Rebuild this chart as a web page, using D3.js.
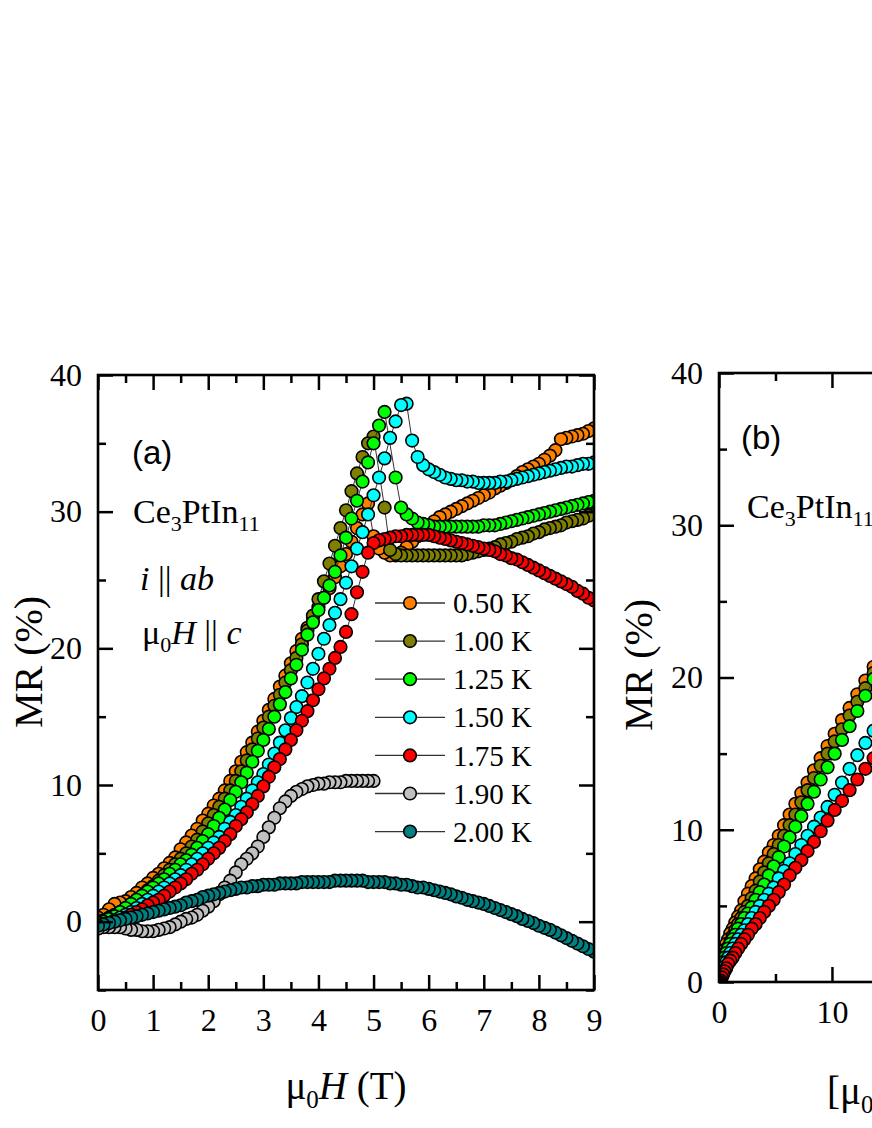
<!DOCTYPE html>
<html>
<head>
<meta charset="utf-8">
<script src="https://cdn.jsdelivr.net/npm/d3@7"></script>
<style>
  body { margin: 0; background: #fff; }
  svg text { font-family: "Liberation Serif", "Times New Roman", serif; fill: #000; }
  .tick text { font-size: 32px; }
  .tick line { stroke: #000; stroke-width: 2.5px; }
  .sans { font-family: "Liberation Sans", Arial, sans-serif !important; }
</style>
</head>
<body>
<div id="chart"></div>
<script>
// Campo magnetico (T), comun a todas las series del panel (a)
const field = [
  0, 0.1, 0.2, 0.3, 0.4, 0.5, 0.6, 0.7, 0.8, 0.9,
  1, 1.1, 1.2, 1.3, 1.4, 1.5, 1.6, 1.7, 1.8, 1.9,
  2, 2.1, 2.2, 2.3, 2.4, 2.5, 2.6, 2.7, 2.8, 2.9,
  3, 3.1, 3.2, 3.3, 3.4, 3.5, 3.6, 3.7, 3.8, 3.9,
  4, 4.1, 4.2, 4.3, 4.4, 4.5, 4.6, 4.7, 4.8, 4.9,
  5, 5.1, 5.2, 5.3, 5.4, 5.5, 5.6, 5.7, 5.8, 5.9,
  6, 6.1, 6.2, 6.3, 6.4, 6.5, 6.6, 6.7, 6.8, 6.9,
  7, 7.1, 7.2, 7.3, 7.4, 7.5, 7.6, 7.7, 7.8, 7.9,
  8, 8.1, 8.2, 8.3, 8.4, 8.5, 8.6, 8.7, 8.8, 8.9,
  9
];

// MR (%) para cada temperatura (null = sin punto)
const mr050 = [
  0.3, 0.5, 0.9, 1.3, 1.4, 1.5, 1.8, 2.1, 2.5, 2.8,
  3.2, 3.5, 3.9, 4.3, 4.7, 5.3, 5.8, 6.3, 6.8, 7.4,
  7.9, 8.5, 9.0, 9.6, 10.3, 11.0, 11.7, 12.4, 13.1, 13.9,
  14.7, 15.5, 16.3, 17.2, 18.0, 18.9, 19.8, 20.7, 21.5, 22.3,
  23.0, 23.7, 24.4, 25.2, 26.0, 26.9, 27.8, 28.8, 29.8, 30.6,
  28.2, 27.3, 27.0, 26.8, 26.8, 27.0, 27.4, 27.8, 28.2, 28.6,
  29.0, 29.3, 29.6, 29.8, 30.0, 30.2, 30.4, 30.6, 30.8, 31.0,
  31.2, 31.4, 31.7, 31.9, 32.1, 32.3, 32.6, 32.9, 33.1, 33.3,
  33.5, 33.8, 34.1, 34.5, 35.3, 35.4, 35.5, 35.6, 35.7, 35.9,
  36.1
];
const mr100 = [
  0.0, 0.1, 0.3, 0.5, 0.7, 1.0, 1.3, 1.6, 1.9, 2.3,
  2.6, 3.0, 3.4, 3.8, 4.2, 4.6, 5.0, 5.5, 6.0, 6.6,
  7.2, 7.8, 8.4, 9.0, 9.6, 10.3, 11.0, 11.8, 12.6, 13.4,
  14.2, 15.0, 15.8, 16.6, 17.5, 18.4, 19.3, 20.3, 21.3, 22.4,
  23.6, 24.9, 26.2, 27.5, 28.8, 30.1, 31.5, 32.8, 34.0, 35.0,
  35.5, null, 30.3, 27.2, 26.9, 26.8, 26.8, 26.8, 26.8, 26.8,
  26.8, 26.8, 26.8, 26.8, 26.8, 26.8, 26.8, 26.9, 27.0, 27.1,
  27.2, 27.3, 27.4, 27.6, 27.7, 27.8, 28.0, 28.1, 28.2, 28.4,
  28.5, 28.7, 28.8, 28.9, 29.0, 29.2, 29.3, 29.4, 29.5, 29.7,
  29.8
];
const mr125 = [
  -0.1, 0.0, 0.2, 0.4, 0.7, 1.0, 1.3, 1.6, 1.9, 2.2,
  2.5, 2.8, 3.1, 3.5, 3.8, 4.2, 4.5, 4.9, 5.4, 5.9,
  6.4, 7.0, 7.6, 8.2, 8.9, 9.5, 10.2, 10.9, 11.7, 12.5,
  13.3, 14.1, 15.0, 15.9, 16.8, 17.8, 18.8, 19.9, 21.0, 21.9,
  22.8, 23.7, 24.6, 25.6, 26.8, 28.1, 29.5, 30.8, 32.2, 33.6,
  35.0, 36.3, 37.3, null, 32.5, 30.3, 29.8, 29.5, 29.2, 29.1,
  29.0, 28.9, 28.9, 28.9, 28.9, 28.9, 28.9, 28.9, 28.9, 28.9,
  29.0, 29.0, 29.0, 29.1, 29.2, 29.3, 29.4, 29.5, 29.6, 29.7,
  29.8, 29.9, 30.0, 30.1, 30.2, 30.3, 30.4, 30.5, 30.6, 30.7,
  30.8
];
const mr150 = [
  -0.5, -0.3, -0.1, 0.1, 0.3, 0.5, 0.7, 1.0, 1.3, 1.6,
  1.9, 2.2, 2.5, 2.8, 3.1, 3.4, 3.8, 4.2, 4.6, 5.0,
  5.4, 5.8, 6.2, 6.8, 7.3, 7.8, 8.4, 9.0, 9.6, 10.2,
  10.8, 11.5, 12.3, 13.1, 14.0, 14.9, 15.7, 16.5, 17.5, 18.5,
  19.6, 20.7, 21.7, 22.6, 23.6, 24.8, 26.0, 27.3, 28.5, 29.8,
  31.2, 32.5, 33.9, 35.4, 36.6, 37.8, 37.9, 35.2, 34.0, 33.4,
  33.1, 32.9, 32.7, 32.5, 32.4, 32.3, 32.3, 32.2, 32.2, 32.1,
  32.1, 32.1, 32.1, 32.2, 32.2, 32.3, 32.4, 32.5, 32.6, 32.7,
  32.8, 32.9, 33.0, 33.1, 33.2, 33.3, 33.3, 33.4, 33.5, 33.5,
  33.6
];
const mr175 = [
  -0.3, -0.2, -0.1, 0.0, 0.1, 0.3, 0.5, 0.7, 0.9, 1.2,
  1.4, 1.6, 1.9, 2.2, 2.5, 2.8, 3.1, 3.5, 3.8, 4.2,
  4.6, 5.0, 5.4, 5.9, 6.4, 7.0, 7.5, 8.0, 8.6, 9.2,
  9.9, 10.6, 11.3, 11.9, 12.6, 13.3, 14.0, 14.7, 15.4, 16.2,
  17.0, 17.8, 18.5, 19.3, 20.1, 21.2, 22.5, 24.1, 25.6, 27.0,
  27.7, 27.9, 28.0, 28.1, 28.2, 28.2, 28.3, 28.3, 28.3, 28.3,
  28.3, 28.2, 28.1, 28.0, 27.9, 27.8, 27.7, 27.6, 27.5, 27.4,
  27.3, 27.2, 27.1, 26.9, 26.8, 26.6, 26.5, 26.3, 26.1, 25.9,
  25.7, 25.5, 25.3, 25.1, 24.9, 24.7, 24.5, 24.2, 24.0, 23.7,
  23.5
];
const mr190 = [
  -0.5, -0.4, -0.4, -0.4, -0.4, -0.5, -0.6, -0.6, -0.7, -0.7,
  -0.7, -0.6, -0.5, -0.4, -0.2, 0.0, 0.2, 0.3, 0.5, 0.8,
  1.1, 1.5, 2.0, 2.5, 3.0, 3.6, 4.2, 4.6, 5.0, 5.5,
  6.2, 6.9, 7.6, 8.3, 8.8, 9.2, 9.5, 9.7, 9.9, 10.0,
  10.1, 10.1, 10.2, 10.2, 10.2, 10.3, 10.3, 10.3, 10.3, 10.3,
  10.3
];
const mr200 = [
  -0.3, -0.2, -0.1, 0.0, 0.1, 0.2, 0.3, 0.4, 0.5, 0.6,
  0.7, 0.8, 0.9, 1.0, 1.1, 1.2, 1.4, 1.5, 1.6, 1.8,
  1.9, 2.0, 2.1, 2.2, 2.3, 2.4, 2.5, 2.5, 2.6, 2.6,
  2.7, 2.7, 2.7, 2.8, 2.8, 2.8, 2.8, 2.9, 2.9, 2.9,
  2.9, 2.9, 2.9, 3.0, 3.0, 3.0, 3.0, 3.0, 3.0, 2.9,
  2.9, 2.9, 2.9, 2.8, 2.8, 2.7, 2.7, 2.6, 2.5, 2.5,
  2.4, 2.3, 2.2, 2.1, 2.0, 1.85, 1.75, 1.6, 1.5, 1.4,
  1.3, 1.15, 1.0, 0.85, 0.7, 0.55, 0.4, 0.2, 0.05, -0.1,
  -0.3, -0.45, -0.6, -0.8, -1.0, -1.2, -1.4, -1.6, -1.8, -2.0,
  -2.2
];

const labels = ["0.50 K", "1.00 K", "1.25 K", "1.50 K", "1.75 K", "1.90 K", "2.00 K"];
const colors = ["#ff8000", "#808000", "#00ff00", "#00ffff", "#ff0000", "#c0c0c0", "#008080"];
const seriesValues = [mr050, mr100, mr125, mr150, mr175, mr190, mr200];
// Series que aparecen en el panel (b)
const seriesInB = [0, 1, 2, 3, 4];

// Ticks
const xTicksA = [0, 1, 2, 3, 4, 5, 6, 7, 8, 9];
const xMinorA = [0.5, 1.5, 2.5, 3.5, 4.5, 5.5, 6.5, 7.5, 8.5];
const yTicksA = [0, 10, 20, 30, 40];
const yMinorA = [-5, 5, 15, 25, 35];
const xTicksB = [0, 10, 20, 30, 40];
const xMinorB = [5, 15, 25, 35];
const yTicksB = [0, 10, 20, 30, 40];
const yMinorB = [5, 15, 25, 35];

const width = 872, height = 1128;

const svg = d3.select("#chart")
  .append("svg")
  .attr("width", width)
  .attr("height", height);

const boxA = { left: 98, right: 594, top: 375, bottom: 990 };
const boxB = { left: 719, right: 1216, top: 373, bottom: 982 };

const xA = d3.scaleLinear().domain([0, 9]).range([boxA.left, boxA.right]);
const yA = d3.scaleLinear().domain([-5, 40]).range([boxA.bottom, boxA.top]);
const xB = d3.scaleLinear().domain([0, 44]).range([boxB.left, boxB.right]);
const yB = d3.scaleLinear().domain([0, 40]).range([boxB.bottom, boxB.top]);

// Puntos de cada serie
const series = seriesValues.map((vals, k) => ({
  label: labels[k],
  color: colors[k],
  points: vals.map((v, i) => ({ h: field[i], mr: v })).filter(d => d.mr != null)
}));

const defs = svg.append("defs");
[["clipA", boxA], ["clipB", boxB]].forEach(([id, b]) => {
  defs.append("clipPath").attr("id", id)
    .append("rect")
    .attr("x", b.left).attr("y", b.top)
    .attr("width", b.right - b.left).attr("height", b.bottom - b.top);
});

function drawSeries(clipId, list, xs, ys, xVal) {
  const g = svg.append("g").attr("clip-path", `url(#${clipId})`);
  const line = d3.line().x(d => xs(xVal(d))).y(d => ys(d.mr));
  list.forEach(s => {
    g.append("path")
      .datum(s.points)
      .attr("d", line)
      .attr("fill", "none")
      .attr("stroke", "#333")
      .attr("stroke-width", 1);
    g.append("g")
      .selectAll("circle")
      .data(s.points.slice().reverse())
      .join("circle")
      .attr("cx", d => xs(xVal(d)))
      .attr("cy", d => ys(d.mr))
      .attr("r", 6.3)
      .attr("fill", s.color)
      .attr("stroke", "#000")
      .attr("stroke-width", 1.6);
  });
}

drawSeries("clipA", series, xA, yA, d => d.h);
drawSeries("clipB", seriesInB.map(k => series[k]), xB, yB, d => d.h * d.h);

// Ejes con ticks hacia dentro en los cuatro lados
function drawAxes(b, xs, ys, xMaj, xMin, yMaj, yMin) {
  const clean = g => g.select(".domain").remove();
  svg.append("g").attr("transform", `translate(0,${b.bottom})`)
    .call(d3.axisBottom(xs).tickValues(xMaj).tickSize(-15).tickPadding(18).tickFormat(d3.format("d")))
    .call(clean);
  svg.append("g").attr("transform", `translate(0,${b.bottom})`)
    .call(d3.axisBottom(xs).tickValues(xMin).tickSize(-8).tickFormat(""))
    .call(clean);
  svg.append("g").attr("transform", `translate(0,${b.top})`)
    .call(d3.axisTop(xs).tickValues(xMaj).tickSize(-15).tickFormat(""))
    .call(clean);
  svg.append("g").attr("transform", `translate(0,${b.top})`)
    .call(d3.axisTop(xs).tickValues(xMin).tickSize(-8).tickFormat(""))
    .call(clean);
  svg.append("g").attr("transform", `translate(${b.left},0)`)
    .call(d3.axisLeft(ys).tickValues(yMaj).tickSize(-15).tickPadding(16).tickFormat(d3.format("d")))
    .call(clean);
  svg.append("g").attr("transform", `translate(${b.left},0)`)
    .call(d3.axisLeft(ys).tickValues(yMin).tickSize(-8).tickFormat(""))
    .call(clean);
  svg.append("g").attr("transform", `translate(${b.right},0)`)
    .call(d3.axisRight(ys).tickValues(yMaj).tickSize(-15).tickFormat(""))
    .call(clean);
  svg.append("g").attr("transform", `translate(${b.right},0)`)
    .call(d3.axisRight(ys).tickValues(yMin).tickSize(-8).tickFormat(""))
    .call(clean);
  svg.append("rect")
    .attr("x", b.left).attr("y", b.top)
    .attr("width", b.right - b.left).attr("height", b.bottom - b.top)
    .attr("fill", "none")
    .attr("stroke", "#000")
    .attr("stroke-width", 2.6);
}

drawAxes(boxA, xA, yA, xTicksA, xMinorA, yTicksA, yMinorA);
drawAxes(boxB, xB, yB, xTicksB, xMinorB, yTicksB, yMinorB);

// Titulos de ejes
function yTitle(x, y) {
  svg.append("text")
    .attr("transform", `translate(${x},${y}) rotate(-90)`)
    .attr("text-anchor", "middle")
    .attr("font-size", 40)
    .text("MR (%)");
}
yTitle(42, 662);
yTitle(652, 665);

const xt = svg.append("text")
  .attr("x", 346).attr("y", 1099)
  .attr("text-anchor", "middle")
  .attr("font-size", 39);
xt.append("tspan").text("μ");
xt.append("tspan").attr("font-size", 25).attr("dy", 9).text("0");
xt.append("tspan").attr("dy", -9).attr("font-style", "italic").text("H");
xt.append("tspan").text(" (T)");

const xtb = svg.append("text")
  .attr("x", 827).attr("y", 1104)
  .attr("font-size", 39);
xtb.append("tspan").text("[μ");
xtb.append("tspan").attr("font-size", 25).attr("dy", 9).text("0");
xtb.append("tspan").attr("dy", -9).attr("font-style", "italic").text("H");
xtb.append("tspan").text(" (T)]");
xtb.append("tspan").attr("font-size", 25).attr("dy", -16).text("2");

// Anotaciones
function compound(x, y) {
  const t = svg.append("text").attr("x", x).attr("y", y).attr("font-size", 34);
  t.append("tspan").text("Ce");
  t.append("tspan").attr("font-size", 22).attr("dy", 8).text("3");
  t.append("tspan").attr("dy", -8).text("PtIn");
  t.append("tspan").attr("font-size", 22).attr("dy", 8).text("11");
}

svg.append("text").attr("class", "sans")
  .attr("x", 132).attr("y", 464).attr("font-size", 33).text("(a)");
compound(133, 523);

const t1 = svg.append("text").attr("x", 140).attr("y", 590).attr("font-size", 34);
t1.append("tspan").attr("font-style", "italic").text("i");
t1.append("tspan").text(" || ");
t1.append("tspan").attr("font-style", "italic").text("ab");

const t2 = svg.append("text").attr("x", 142).attr("y", 644).attr("font-size", 34);
t2.append("tspan").text("μ");
t2.append("tspan").attr("font-size", 22).attr("dy", 8).text("0");
t2.append("tspan").attr("dy", -8).attr("font-style", "italic").text("H");
t2.append("tspan").text(" || ");
t2.append("tspan").attr("font-style", "italic").text("c");

svg.append("text").attr("class", "sans")
  .attr("x", 741).attr("y", 449).attr("font-size", 33).text("(b)");
compound(747, 518);

// Leyenda
const legend = svg.append("g");
const rows = legend.selectAll("g")
  .data(series)
  .join("g")
  .attr("transform", (d, i) => `translate(0,${603 + i * 38.1})`);
rows.append("line")
  .attr("x1", 375).attr("x2", 445)
  .attr("stroke", "#333").attr("stroke-width", 1.3);
rows.append("circle")
  .attr("cx", 410).attr("r", 6.3)
  .attr("fill", d => d.color)
  .attr("stroke", "#000").attr("stroke-width", 1.6);
rows.append("text")
  .attr("x", 453).attr("dy", "0.35em")
  .attr("font-size", 29)
  .text(d => d.label);
</script>
</body>
</html>
